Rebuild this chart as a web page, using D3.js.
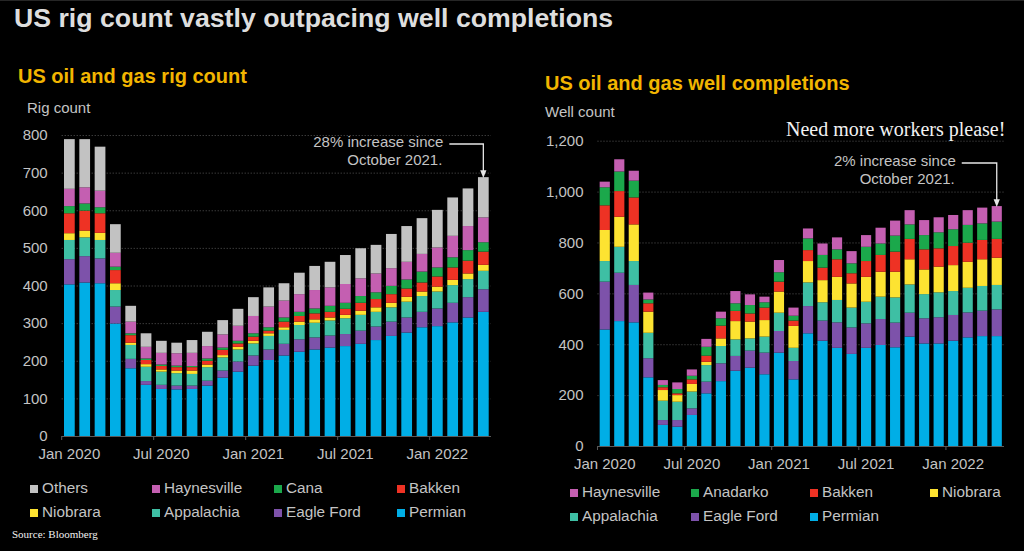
<!DOCTYPE html>
<html>
<head>
<meta charset="utf-8">
<script src="https://cdn.jsdelivr.net/npm/d3@7"></script>
<style>
  html, body { margin: 0; padding: 0; background: #000; }
  svg { display: block; font-family: "Liberation Sans", Arial, sans-serif; }
  .title { fill: #dedede; font-weight: bold; font-size: 26.7px; }
  .subtitle { fill: #f2b500; font-weight: bold; font-size: 20px; }
  .unit, .note { fill: #c4c4c4; font-size: 15px; }
  .axis text { fill: #c4c4c4; font-size: 15px; font-family: "Liberation Sans", Arial, sans-serif; }
  .grid line { stroke: #555; stroke-dasharray: 1,2; }
  .legend text { fill: #c4c4c4; font-size: 15.3px; }
  .serif { font-family: "Liberation Serif", "Times New Roman", serif; fill: #f2f2f2; }
</style>
</head>
<body>
<div id="chart"></div>
<script>
// months shown on both charts, Jan 2020 .. Apr 2022
const months = [
  "2020-01", "2020-02", "2020-03", "2020-04", "2020-05", "2020-06", "2020-07",
  "2020-08", "2020-09", "2020-10", "2020-11", "2020-12", "2021-01", "2021-02",
  "2021-03", "2021-04", "2021-05", "2021-06", "2021-07", "2021-08", "2021-09",
  "2021-10", "2021-11", "2021-12", "2022-01", "2022-02", "2022-03", "2022-04",
];
const xTickMonths = ["2020-01", "2020-07", "2021-01", "2021-07", "2022-01"];
const xTickLabels = ["Jan 2020", "Jul 2020", "Jan 2021", "Jul 2021", "Jan 2022"];

// rig count by basin
const rigPermian = [403, 408, 406, 299, 180, 136, 125, 124, 125, 134, 155, 171, 187, 202, 214, 224, 230, 235, 239, 245, 255, 266, 275, 289, 292, 302, 315, 330];
const rigEagleFord = [67, 70, 66, 45, 25, 10, 11, 10, 9, 13, 19, 27, 27, 28, 31, 33, 32, 32, 32, 35, 36, 38, 40, 41, 47, 52, 54, 60];
const rigAppalachia = [51, 50, 49, 44, 37, 38, 35, 33, 31, 36, 35, 32, 32, 36, 37, 38, 39, 40, 42, 42, 39, 38, 42, 42, 45, 47, 48, 49];
const rigNiobrara = [18, 18, 19, 18, 6, 7, 6, 7, 9, 7, 6, 7, 7, 7, 7, 9, 9, 8, 9, 11, 12, 12, 13, 12, 13, 14, 15, 16];
const rigBakken = [53, 53, 52, 35, 20, 11, 9, 9, 9, 10, 14, 9, 11, 7, 15, 15, 16, 15, 16, 21, 22, 23, 22, 24, 27, 33, 34, 35];
const rigCana = [19, 19, 16, 9, 5, 4, 4, 4, 3, 6, 6, 7, 9, 9, 11, 11, 13, 16, 16, 18, 18, 22, 24, 29, 24, 27, 28, 25];
const rigHaynesville = [46, 43, 44, 37, 31, 31, 31, 33, 35, 33, 35, 40, 46, 55, 45, 47, 49, 49, 50, 47, 50, 47, 47, 47, 53, 57, 64, 66];
const rigOthers = [132, 128, 117, 76, 42, 36, 32, 28, 34, 38, 38, 45, 50, 51, 46, 57, 64, 68, 77, 80, 76, 91, 95, 95, 100, 102, 100, 107];

// well completions by basin
const wellPermian = [458, 491, 486, 270, 83, 76, 122, 207, 255, 296, 308, 282, 367, 262, 443, 414, 386, 362, 386, 397, 388, 430, 403, 403, 414, 427, 432, 432];
const wellEagleFord = [188, 190, 147, 75, 19, 26, 26, 46, 70, 58, 67, 85, 85, 72, 107, 79, 100, 104, 96, 102, 97, 94, 99, 103, 101, 98, 100, 105];
const wellAppalachia = [81, 102, 94, 100, 76, 72, 66, 65, 68, 65, 48, 63, 72, 52, 93, 72, 88, 78, 85, 88, 99, 111, 95, 98, 94, 97, 97, 96];
const wellNiobrara = [122, 118, 144, 83, 42, 26, 30, 13, 30, 72, 66, 65, 83, 86, 84, 87, 91, 95, 98, 98, 101, 99, 97, 101, 102, 102, 105, 107];
const wellBakken = [97, 101, 106, 33, 11, 7, 18, 24, 50, 40, 32, 49, 39, 21, 43, 49, 69, 40, 62, 66, 79, 80, 79, 72, 75, 75, 76, 74];
const wellAnadarko = [71, 77, 66, 15, 9, 17, 14, 35, 29, 30, 33, 21, 37, 19, 46, 50, 39, 39, 56, 45, 63, 57, 56, 63, 66, 70, 65, 68];
const wellHaynesville = [22, 48, 39, 27, 19, 26, 25, 31, 26, 48, 42, 22, 48, 32, 39, 45, 47, 48, 46, 62, 59, 56, 59, 59, 56, 58, 62, 61];

// stack order, bottom to top
const rigKeys = ["Permian", "Eagle Ford", "Appalachia", "Niobrara", "Bakken", "Cana", "Haynesville", "Others"];
const wellKeys = ["Permian", "Eagle Ford", "Appalachia", "Niobrara", "Bakken", "Anadarko", "Haynesville"];
const rigLegend = ["Others", "Haynesville", "Cana", "Bakken", "Niobrara", "Appalachia", "Eagle Ford", "Permian"];
const wellLegend = ["Haynesville", "Anadarko", "Bakken", "Niobrara", "Appalachia", "Eagle Ford", "Permian"];

const colors = {
  "Permian": "#00aee6",
  "Eagle Ford": "#7d52aa",
  "Appalachia": "#3ebfa4",
  "Niobrara": "#fde331",
  "Bakken": "#ee3224",
  "Cana": "#1ba84b",
  "Anadarko": "#1ba84b",
  "Haynesville": "#c45fb1",
  "Others": "#c2c2c2",
};

const rigTable = months.map((m, i) => ({
  month: m,
  "Permian": rigPermian[i], "Eagle Ford": rigEagleFord[i], "Appalachia": rigAppalachia[i],
  "Niobrara": rigNiobrara[i], "Bakken": rigBakken[i], "Cana": rigCana[i],
  "Haynesville": rigHaynesville[i], "Others": rigOthers[i],
}));
const wellTable = months.map((m, i) => ({
  month: m,
  "Permian": wellPermian[i], "Eagle Ford": wellEagleFord[i], "Appalachia": wellAppalachia[i],
  "Niobrara": wellNiobrara[i], "Bakken": wellBakken[i], "Anadarko": wellAnadarko[i],
  "Haynesville": wellHaynesville[i],
}));

const width = 1024;
const height = 551;

const svg = d3.select("#chart").append("svg")
  .attr("width", width)
  .attr("height", height)
  .attr("viewBox", [0, 0, width, height]);

svg.append("rect").attr("width", width).attr("height", height).attr("fill", "#000");
svg.append("line").attr("x1", 0).attr("x2", width).attr("y1", 0.5).attr("y2", 0.5)
  .attr("stroke", "#262626");

svg.append("defs").append("marker")
  .attr("id", "arrow")
  .attr("viewBox", "0 0 10 10")
  .attr("refX", 5).attr("refY", 5)
  .attr("markerWidth", 6).attr("markerHeight", 6)
  .attr("orient", "auto")
  .append("path").attr("d", "M0,1L10,5L0,9Z").attr("fill", "#e6e6e6");

svg.append("text").attr("class", "title").attr("x", 14).attr("y", 27)
  .text("US rig count vastly outpacing well completions");

/**
 * Draw one stacked bar panel.
 */
function drawPanel(p) {
  const g = svg.append("g");

  const x = d3.scaleBand()
    .domain(months)
    .range(p.xRange)
    .paddingInner(0.3)
    .paddingOuter(0.15);

  const y = d3.scaleLinear()
    .domain([0, p.yMax])
    .range(p.yRange);

  const series = d3.stack().keys(p.keys)(p.data);

  g.append("text").attr("class", "subtitle").attr("x", p.subtitleX).attr("y", p.subtitleY).text(p.subtitle);
  g.append("text").attr("class", "unit").attr("x", p.unitX).attr("y", p.unitY).text(p.unit);

  // dotted grid + y labels
  const yAxis = d3.axisLeft(y)
    .tickValues(d3.range(0, p.yMax + 1, p.yStep))
    .tickFormat(p.yFormat)
    .tickSize(-(p.xRange[1] - p.xRange[0]))
    .tickPadding(14);

  g.append("g")
    .attr("class", "axis grid")
    .attr("transform", `translate(${p.xRange[0]},0)`)
    .call(yAxis)
    .call((s) => s.select(".domain").remove())
    .call((s) => s.selectAll(".tick").filter((d) => d === 0).select("line").remove());

  // bars
  g.append("g")
    .selectAll("g")
    .data(series)
    .join("g")
    .attr("fill", (s) => colors[s.key])
    .selectAll("rect")
    .data((s) => s)
    .join("rect")
    .attr("x", (d) => x(d.data.month))
    .attr("y", (d) => y(d[1]))
    .attr("width", x.bandwidth())
    .attr("height", (d) => y(d[0]) - y(d[1]));

  // x axis: baseline, ticks at month boundaries, labels centred on bars
  const gap = (x.step() * x.paddingInner()) / 2;
  const xAxis = d3.axisBottom(x)
    .tickValues(xTickMonths)
    .tickFormat((d) => xTickLabels[xTickMonths.indexOf(d)])
    .tickSize(0)
    .tickPadding(12);

  const xg = g.append("g")
    .attr("class", "axis")
    .attr("transform", `translate(0,${y(0)})`)
    .call(xAxis);
  xg.select(".domain").attr("stroke", "#5a5a5a").attr("d", `M${p.xRange[0]},0.5H${p.xRange[1]}`);
  xg.selectAll(".tick")
    .append("line")
    .attr("x1", -x.bandwidth() / 2 - gap)
    .attr("x2", -x.bandwidth() / 2 - gap)
    .attr("y1", 0)
    .attr("y2", 4)
    .attr("stroke", "#5a5a5a");

  // annotation with bent arrow onto the last bar
  const last = p.data[p.data.length - 1];
  const lastTotal = d3.sum(p.keys, (k) => last[k]);
  const ax = x(last.month) + x.bandwidth() / 2;
  const ay = y(lastTotal) - 3;
  const textRight = ax - p.noteGap;

  g.append("text").attr("class", "note").attr("text-anchor", "end")
    .attr("x", textRight).attr("y", p.noteY).text(p.note[0]);
  g.append("text").attr("class", "note").attr("text-anchor", "end")
    .attr("x", textRight - 1).attr("y", p.noteY + 18).text(p.note[1]);
  g.append("path")
    .attr("d", `M${textRight + 6},${p.noteY - 3}H${ax}V${ay}`)
    .attr("fill", "none")
    .attr("stroke", "#e6e6e6")
    .attr("stroke-width", 1.3)
    .attr("marker-end", "url(#arrow)");

  // legend
  const lg = g.append("g").attr("class", "legend");
  p.legend.forEach((key, i) => {
    const cx = p.legendCols[i % 4];
    const cy = p.legendRows[Math.floor(i / 4)];
    lg.append("rect").attr("x", cx).attr("y", cy - 8).attr("width", 8).attr("height", 8)
      .attr("fill", colors[key]);
    lg.append("text").attr("x", cx + 12).attr("y", cy).text(key);
  });
}

drawPanel({
  data: rigTable,
  keys: rigKeys,
  legend: rigLegend,
  xRange: [61.7, 491],
  yRange: [436, 135],
  yMax: 800,
  yStep: 100,
  yFormat: d3.format("d"),
  subtitle: "US oil and gas rig count",
  subtitleX: 18,
  subtitleY: 83,
  unit: "Rig count",
  unitX: 27,
  unitY: 113,
  note: ["28% increase since", "October 2021."],
  noteY: 147,
  noteGap: 40,
  legendCols: [30, 152, 274, 397],
  legendRows: [493, 517],
});

drawPanel({
  data: wellTable,
  keys: wellKeys,
  legend: wellLegend,
  xRange: [597.5, 1004],
  yRange: [446, 140.7],
  yMax: 1200,
  yStep: 200,
  yFormat: d3.format(","),
  subtitle: "US oil and gas well completions",
  subtitleX: 545,
  subtitleY: 90,
  unit: "Well count",
  unitX: 545,
  unitY: 117,
  note: ["2% increase since", "October 2021."],
  noteY: 166,
  noteGap: 41,
  legendCols: [570, 691, 810, 930],
  legendRows: [497, 521],
});

svg.append("text").attr("class", "serif").attr("x", 786).attr("y", 136)
  .attr("font-size", 20).text("Need more workers please!");
svg.append("text").attr("class", "serif").attr("x", 12).attr("y", 538)
  .attr("font-size", 11).attr("fill", "#e0e0e0").text("Source: Bloomberg");
</script>
</body>
</html>
